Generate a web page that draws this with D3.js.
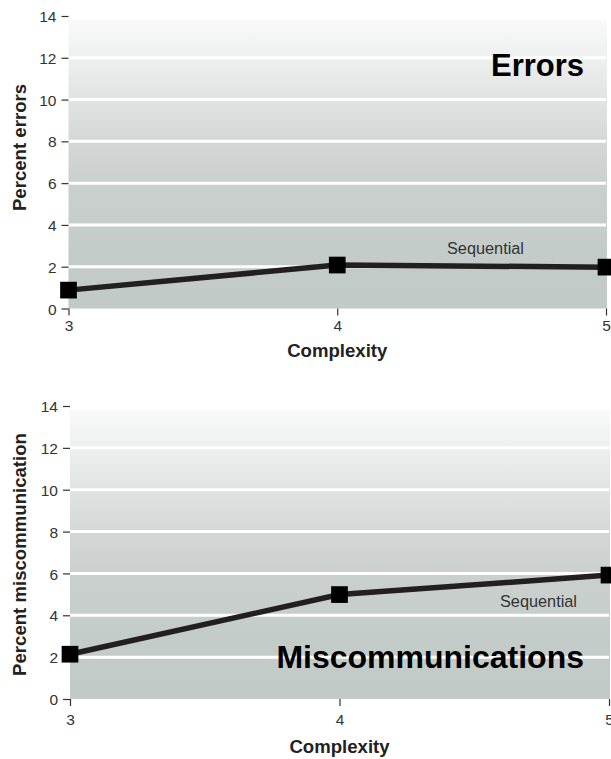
<!DOCTYPE html>
<html>
<head>
<meta charset="utf-8">
<script src="https://cdn.jsdelivr.net/npm/d3@7"></script>
<style>
  html, body { margin: 0; padding: 0; background: #fff; }
  svg { display: block; }
  text { font-family: "Liberation Sans", Arial, Helvetica, sans-serif; }
</style>
</head>
<body>
<svg id="chart" width="611" height="759"></svg>
<script>
// ---- data ----
const complexity = [3, 4, 5];
const errorsSequential = [0.88, 2.08, 1.98];
const miscommSequential = [2.14, 4.99, 5.92];
const yTicks = [0, 2, 4, 6, 8, 10, 12, 14];
const gridValues = [2, 4, 6, 8, 10, 12];
const xTicks = [3, 4, 5];

const svg = d3.select("#chart");
const defs = svg.append("defs");

function drawPanel(o) {
  const g = svg.append("g");
  const x = d3.scaleLinear().domain([3, 5]).range([o.x0, o.x1]);
  const y = d3.scaleLinear().domain([0, 14]).range([o.yBottom, o.yTop]);

  // gradient background
  const gid = "grad" + o.id;
  const grad = defs.append("linearGradient")
    .attr("id", gid).attr("gradientUnits", "userSpaceOnUse")
    .attr("x1", 0).attr("x2", 0)
    .attr("y1", y(13.8)).attr("y2", y(0));
  [[13.8, "#f9f9f9"], [12, "#eef0ef"], [10, "#e0e3e2"], [8, "#d3d8d6"], [6, "#cad0ce"], [3, "#c4ccc9"], [0, "#c1cac7"]]
    .forEach(([v, c]) => grad.append("stop")
      .attr("offset", (13.8 - v) / 13.8).attr("stop-color", c));

  g.append("rect")
    .attr("x", x(3)).attr("y", y(13.8))
    .attr("width", x(5) - x(3) + 1).attr("height", y(0) - y(13.8))
    .attr("fill", `url(#${gid})`);

  // white grid lines
  g.selectAll(".grid").data(gridValues).enter().append("line")
    .attr("x1", x(3)).attr("x2", x(5))
    .attr("y1", d => y(d)).attr("y2", d => y(d))
    .attr("stroke", "#ffffff").attr("stroke-width", 3);

  // y axis (ticks only)
  const yAxis = d3.axisLeft(y).tickValues(yTicks).tickSize(7).tickPadding(5)
    .tickFormat(d3.format("d"));
  const ya = g.append("g").attr("transform", `translate(${x(3)},0)`).call(yAxis);
  ya.select(".domain").remove();
  ya.selectAll("line").attr("stroke", "#333").attr("stroke-width", 1.2);
  ya.selectAll("text").attr("fill", "#333").attr("font-size", "15.5px").attr("dy", "0.36em");

  // x axis (ticks only)
  const xAxis = d3.axisBottom(x).tickValues(xTicks).tickSize(7).tickPadding(o.xPad)
    .tickFormat(d3.format("d"));
  const xa = g.append("g").attr("transform", `translate(0,${y(0)})`).call(xAxis);
  xa.select(".domain").remove();
  xa.selectAll("line").attr("stroke", "#333").attr("stroke-width", 1.2);
  xa.selectAll("text").attr("fill", "#333").attr("font-size", "15.5px");

  // axis titles
  g.append("text")
    .attr("x", (x(3) + x(5)) / 2).attr("y", o.xTitleY)
    .attr("text-anchor", "middle").attr("font-size", "18.6px").attr("font-weight", "bold")
    .attr("fill", "#222").text("Complexity");
  g.append("text")
    .attr("transform", `translate(26,${o.yTitleCY}) rotate(-90)`)
    .attr("text-anchor", "middle").attr("font-size", "18.6px").attr("font-weight", "bold")
    .attr("fill", "#222").text(o.yTitle);

  // series line
  const pts = complexity.map((c, i) => [c, o.values[i]]);
  g.append("path")
    .datum(pts)
    .attr("fill", "none").attr("stroke", "#231f20").attr("stroke-width", 5.5)
    .attr("d", d3.line().x(d => x(d[0])).y(d => y(d[1])));

  // markers
  const ms = 16.7;
  g.selectAll(".mk").data(pts).enter().append("rect")
    .attr("x", d => x(d[0]) - ms / 2).attr("y", d => y(d[1]) - ms / 2)
    .attr("width", ms).attr("height", ms).attr("fill", "#000");

  // series label
  g.append("text")
    .attr("x", o.seqX).attr("y", o.seqY)
    .attr("font-size", "16.3px").attr("fill", "#333").text("Sequential");

  // panel title
  g.append("text")
    .attr("x", 584).attr("y", o.titleY)
    .attr("text-anchor", "end").attr("font-size", o.titleSize).attr("font-weight", "bold")
    .attr("fill", "#000").text(o.title);
}

drawPanel({
  id: "A", x0: 68.5, x1: 606, yBottom: 308.5, yTop: 16,
  values: errorsSequential, xPad: 4, xTitleY: 357, yTitleCY: 147.5,
  yTitle: "Percent errors", seqX: 447, seqY: 254,
  title: "Errors", titleY: 76, titleSize: "31px"
});
drawPanel({
  id: "B", x0: 70, x1: 609, yBottom: 699, yTop: 406,
  values: miscommSequential, xPad: 8, xTitleY: 753, yTitleCY: 554.5,
  yTitle: "Percent miscommunication", seqX: 500, seqY: 606.5,
  title: "Miscommunications", titleY: 668, titleSize: "32px"
});
</script>
</body>
</html>
